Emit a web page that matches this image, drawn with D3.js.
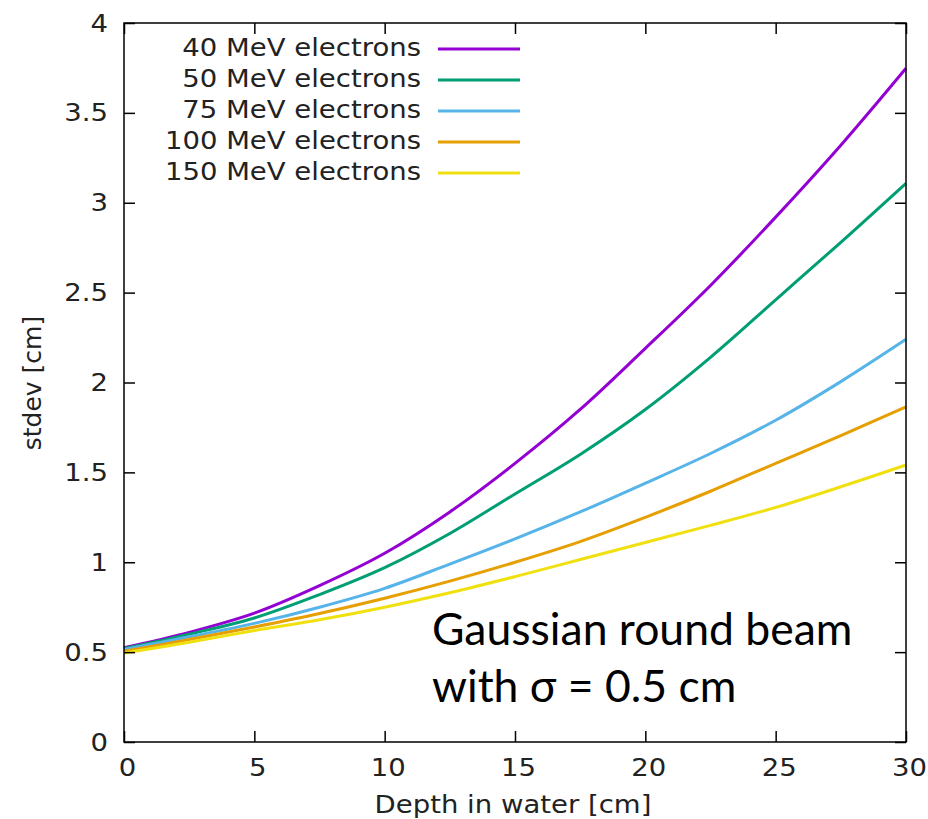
<!DOCTYPE html>
<html>
<head>
<meta charset="utf-8">
<script src="https://cdn.jsdelivr.net/npm/d3@7"></script>
<style>
  html, body { margin: 0; padding: 0; background: #fff; }
  svg { display: block; }
  .gp text { font-family: "DejaVu Sans", sans-serif; font-size: 25px; fill: #222; }
  .note { font-family: Lato, "Open Sans", sans-serif; font-size: 44.5px; fill: #000; }
</style>
</head>
<body>
<svg id="chart" width="928" height="819"></svg>
<script>
// Depth sampling (cm) shared by all series
const depth = [0, 2.5, 5, 7.5, 10, 12.5, 15, 17.5, 20, 22.5, 25, 27.5, 30];

// Beam standard deviation (cm) per electron energy
const e40  = [0.525, 0.61, 0.717, 0.87, 1.05, 1.28, 1.55, 1.85, 2.19, 2.54, 2.92, 3.32, 3.748];
const e50  = [0.52, 0.60, 0.69, 0.82, 0.97, 1.16, 1.38, 1.60, 1.85, 2.14, 2.46, 2.78, 3.108];
const e75  = [0.515, 0.585, 0.66, 0.75, 0.855, 0.99, 1.13, 1.28, 1.44, 1.605, 1.79, 2.005, 2.24];
const e100 = [0.505, 0.57, 0.64, 0.715, 0.80, 0.895, 1.00, 1.115, 1.25, 1.395, 1.55, 1.705, 1.864];
const e150 = [0.495, 0.555, 0.62, 0.68, 0.75, 0.83, 0.92, 1.015, 1.11, 1.205, 1.305, 1.42, 1.541];

const seriesNames = ["40 MeV electrons", "50 MeV electrons", "75 MeV electrons", "100 MeV electrons", "150 MeV electrons"];
const seriesValues = [e40, e50, e75, e100, e150];
const seriesColors = ["#9400d3", "#009e73", "#56b4e9", "#e69f00", "#f0e010"];

const xTicks = [0, 5, 10, 15, 20, 25, 30];
const yTicks = [0, 0.5, 1, 1.5, 2, 2.5, 3, 3.5, 4];

const svg = d3.select("#chart");
const plotL = 124, plotR = 906, plotT = 23, plotB = 742;

const x = d3.scaleLinear().domain([0, 30]).range([plotL, plotR]);
const y = d3.scaleLinear().domain([0, 4]).range([plotB, plotT]);

const g = svg.append("g").attr("class", "gp");

// Curves
const line = d3.line()
  .x((d, i) => x(depth[i]))
  .y(d => y(d))
  .curve(d3.curveCatmullRom.alpha(0.5));

seriesValues.forEach((vals, k) => {
  g.append("path")
    .datum(vals)
    .attr("fill", "none")
    .attr("stroke", seriesColors[k])
    .attr("stroke-width", 3)
    .attr("stroke-linejoin", "round")
    .attr("d", line);
});

// Axes with inward ticks on all four sides (gnuplot mirror style)
const tick = 11;
const fmt = d => String(d);
const xb = g.append("g").attr("transform", `translate(0,${plotB})`)
  .call(d3.axisBottom(x).tickValues(xTicks).tickFormat(fmt).tickSize(-tick).tickSizeOuter(0).tickPadding(16));
const xt = g.append("g").attr("transform", `translate(0,${plotT})`)
  .call(d3.axisTop(x).tickValues(xTicks).tickFormat("").tickSize(-tick).tickSizeOuter(0));
const yl = g.append("g").attr("transform", `translate(${plotL},0)`)
  .call(d3.axisLeft(y).tickValues(yTicks).tickFormat(fmt).tickSize(-tick).tickSizeOuter(0).tickPadding(16));
const yr = g.append("g").attr("transform", `translate(${plotR},0)`)
  .call(d3.axisRight(y).tickValues(yTicks).tickFormat("").tickSize(-tick).tickSizeOuter(0));

[xb, xt, yl, yr].forEach(a => {
  a.attr("font-family", null).attr("font-size", null);
  a.select(".domain").remove();
  a.selectAll("line").attr("stroke", "#000").attr("stroke-width", 1.5);
  a.selectAll("text").attr("fill", "#222").classed("wide", true);
});
xb.selectAll("text").attr("dx", 3);

// Frame
g.append("rect")
  .attr("x", plotL).attr("y", plotT)
  .attr("width", plotR - plotL).attr("height", plotB - plotT)
  .attr("fill", "none").attr("stroke", "#000").attr("stroke-width", 1.5);

// Axis titles
g.append("text")
  .attr("class", "wide")
  .attr("x", 513).attr("y", 813)
  .attr("text-anchor", "middle")
  .text("Depth in water [cm]");

g.append("text")
  .attr("transform", "translate(41,383) rotate(-90)")
  .attr("text-anchor", "middle")
  .text("stdev [cm]");

// Key
const key = g.append("g");
seriesNames.forEach((name, k) => {
  const cy = 49 + k * 31;
  key.append("text")
    .attr("class", "wide")
    .attr("x", 421).attr("y", cy + 7)
    .attr("text-anchor", "end")
    .text(name);
  key.append("line")
    .attr("x1", 438).attr("x2", 520)
    .attr("y1", cy).attr("y2", cy)
    .attr("stroke", seriesColors[k]).attr("stroke-width", 3);
});

// Annotation
const note = svg.append("text").attr("class", "note");
note.append("tspan").attr("x", 432).attr("y", 645).text("Gaussian round beam");
note.append("tspan").attr("x", 432).attr("y", 702).text("with σ = 0.5 cm");

// Slightly wider glyphs for the horizontal gnuplot labels
svg.selectAll("text.wide").each(function () {
  const w = this.getComputedTextLength();
  if (w > 0) d3.select(this).attr("textLength", w * 1.1).attr("lengthAdjust", "spacingAndGlyphs");
});
</script>
</body>
</html>
